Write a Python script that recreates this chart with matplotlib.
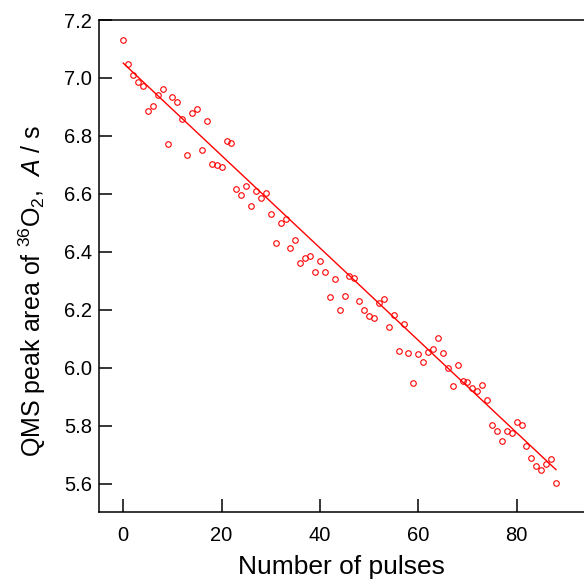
import numpy as np
import matplotlib
matplotlib.use("Agg")
import matplotlib.pyplot as plt

plt.rcParams['font.family'] = ['Liberation Sans', 'DejaVu Sans']
plt.rcParams['mathtext.fontset'] = 'custom'
plt.rcParams['mathtext.rm'] = 'Liberation Sans'
plt.rcParams['mathtext.it'] = 'Liberation Sans:italic'

# pulse number and QMS peak area
pulses = np.arange(0, 89)
peak_area = [
    7.132, 7.048, 7.010, 6.985, 6.972, 6.885, 6.905, 6.942, 6.962, 6.771,
    6.936, 6.916, 6.858, 6.734, 6.878, 6.894, 6.752, 6.851, 6.705, 6.701,
    6.692, 6.784, 6.777, 6.618, 6.595, 6.629, 6.560, 6.610, 6.585, 6.603,
    6.532, 6.432, 6.500, 6.513, 6.415, 6.441, 6.362, 6.380, 6.386, 6.330,
    6.370, 6.332, 6.244, 6.307, 6.201, 6.249, 6.318, 6.310, 6.231, 6.200,
    6.178, 6.172, 6.224, 6.238, 6.140, 6.184, 6.060, 6.152, 6.051, 5.948,
    6.048, 6.022, 6.054, 6.066, 6.103, 6.052, 6.000, 5.938, 6.009, 5.956,
    5.951, 5.930, 5.922, 5.942, 5.891, 5.803, 5.782, 5.747, 5.783, 5.775,
    5.814, 5.802, 5.731, 5.691, 5.662, 5.648, 5.669, 5.685, 5.603,
]
# fitted line as shown in the picture (intercept, slope)
fit_intercept = 7.051
fit_slope = -0.01593
y_ticks = [5.6, 5.8, 6.0, 6.2, 6.4, 6.6, 6.8, 7.0, 7.2]
x_ticks = [0, 20, 40, 60, 80]

fit_x = np.array([pulses[0], pulses[-1]])
fit_y = fit_slope * fit_x + fit_intercept

fig = plt.figure(figsize=(5.84, 5.80), dpi=100)
ax = fig.add_axes([0.1695, 0.1172, 0.8305, 0.8483])

ax.plot(pulses, peak_area, 'o', mfc='none', mec='red', ms=4.0, mew=0.8)
ax.plot(fit_x, fit_y, '-', color='red', lw=1.0)

ax.set_xlim(-4.94, 93.7)
ax.set_ylim(5.503, 7.2)
ax.set_xticks(x_ticks)
ax.set_yticks(y_ticks)
ax.set_yticklabels(['%.1f' % v for v in y_ticks])

ax.spines['right'].set_visible(False)
for s in ['left', 'top', 'bottom']:
    ax.spines[s].set_linewidth(1.1)
ax.tick_params(direction='in', length=9.5, width=1.1, labelsize=14.5,
               top=False, right=False)
ax.tick_params(axis='x', pad=10)
ax.tick_params(axis='y', pad=5)

ax.set_xlabel('Number of pulses', fontsize=19, labelpad=7.5)
ax.set_ylabel(r'QMS peak area of $^{36}$O$_{2}$,  $A$ / s', fontsize=18)
ax.yaxis.set_label_coords(-0.105, 0.45)

fig.savefig('out.png', dpi=100)
